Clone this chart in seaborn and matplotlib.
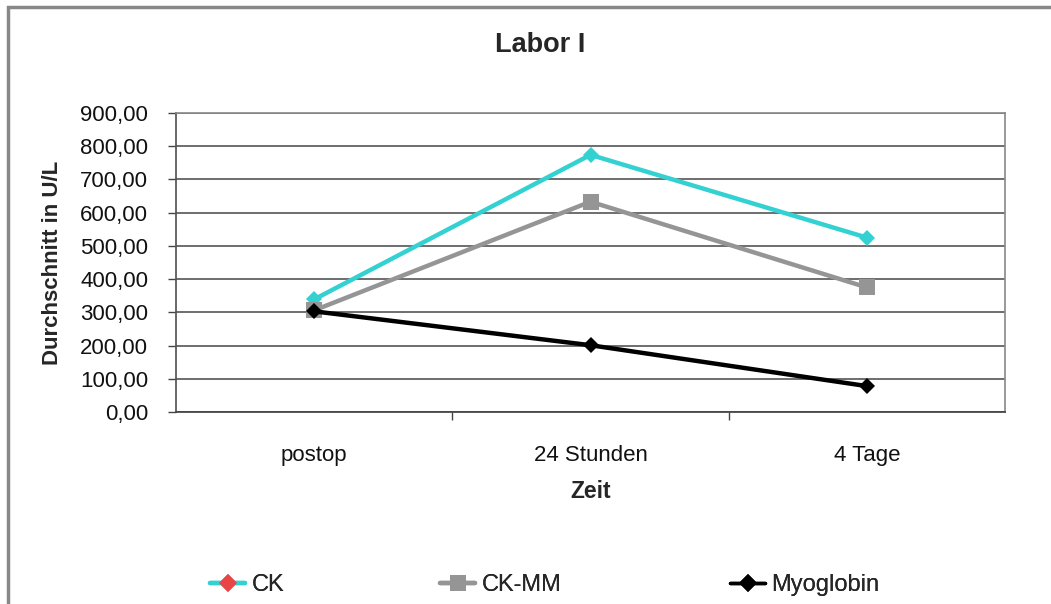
import matplotlib
matplotlib.use("Agg")
import matplotlib.pyplot as plt
from matplotlib.lines import Line2D
from matplotlib.patches import Rectangle
import seaborn as sns
import pandas as pd

categories = ["postop", "24 Stunden", "4 Tage"]
ck = [339, 774, 525]
ck_mm = [306, 633, 375]
myoglobin = [303, 201, 78]
series_names = ["CK", "CK-MM", "Myoglobin"]
y_ticks = [0, 100, 200, 300, 400, 500, 600, 700, 800, 900]

df = pd.DataFrame({
    "Zeit": categories * 3,
    "x": list(range(3)) * 3,
    "Wert": ck + ck_mm + myoglobin,
    "Serie": [series_names[0]] * 3 + [series_names[1]] * 3 + [series_names[2]] * 3,
})

sns.set_theme(style="white")
plt.rcParams["font.family"] = ["Liberation Sans", "DejaVu Sans"]

fig = plt.figure(figsize=(10.51, 6.04), dpi=100)
ax = fig.add_axes([176/1051, 1 - 412/604, (1005-176)/1051, (412-113)/604])

palette = {"CK": "#33D1D1", "CK-MM": "#959595", "Myoglobin": "#000000"}
markers = {"CK": "D", "CK-MM": "s", "Myoglobin": "D"}
sizes = {"CK": 8, "CK-MM": 11, "Myoglobin": 8}
for name in series_names:
    sub = df[df["Serie"] == name]
    sns.lineplot(data=sub, x="x", y="Wert", color=palette[name], marker=markers[name],
                 markersize=sizes[name], markeredgewidth=0, linewidth=3.2, ax=ax,
                 legend=False, zorder=3)

ax.set_xlim(-0.5, 2.5)
ax.set_ylim(0, 900)
ax.set_yticks(y_ticks)
ax.set_yticklabels([f"{v:.2f}".replace(".", ",") for v in y_ticks], fontsize=16, color="#111111")
ax.set_xticks([0, 1, 2])
ax.set_xticklabels(categories, fontsize=16, color="#111111")
ax.set_xticks([0.5, 1.5], minor=True)
ax.tick_params(axis="x", which="major", length=0, pad=24)
ax.tick_params(axis="x", which="minor", length=6, width=1, color="#444444", bottom=True)
ax.tick_params(axis="y", which="major", length=6, width=1, color="#444444", left=True, pad=14)
ax.yaxis.grid(True, color="#555555", linewidth=1.2)
ax.xaxis.grid(False)
for s in ["top", "right"]:
    ax.spines[s].set_color("#888888")
    ax.spines[s].set_linewidth(1.2)
ax.spines["left"].set_color("#555555")
ax.spines["bottom"].set_color("#444444")
ax.set_xlabel("Zeit", fontsize=16.5, fontweight="bold", labelpad=10)
ax.set_ylabel("Durchschnitt in U/L", fontsize=16, fontweight="bold", labelpad=12)

fig.text(540/1051, 1 - 45/604, "Labor I", ha="center", va="center", fontsize=19.5, fontweight="bold")

# figure frame
fig.patches.append(Rectangle((8/1051, -0.05), 2.0, 1 - 7/604 + 0.05, transform=fig.transFigure,
                             fill=False, edgecolor="#888888", linewidth=2.5))

handles = [
    Line2D([], [], color="#33D1D1", marker="D", markerfacecolor="#E84545", markeredgewidth=0,
           markersize=9, linewidth=3.2),
    Line2D([], [], color="#959595", marker="s", markersize=12, markeredgewidth=0, linewidth=3.2),
    Line2D([], [], color="#000000", marker="D", markersize=9, markeredgewidth=0, linewidth=2.5),
]
starts = [210, 440, 730]
for h, name, x0 in zip(handles, series_names, starts):
    leg = fig.legend([h], [name], loc="center left", bbox_to_anchor=(x0/1051, 1 - 585/604),
                     frameon=False, fontsize=17, handlelength=1.5, handletextpad=0.25,
                     borderpad=0, borderaxespad=0)
    fig.add_artist(leg)

fig.savefig("out.png", dpi=100)
